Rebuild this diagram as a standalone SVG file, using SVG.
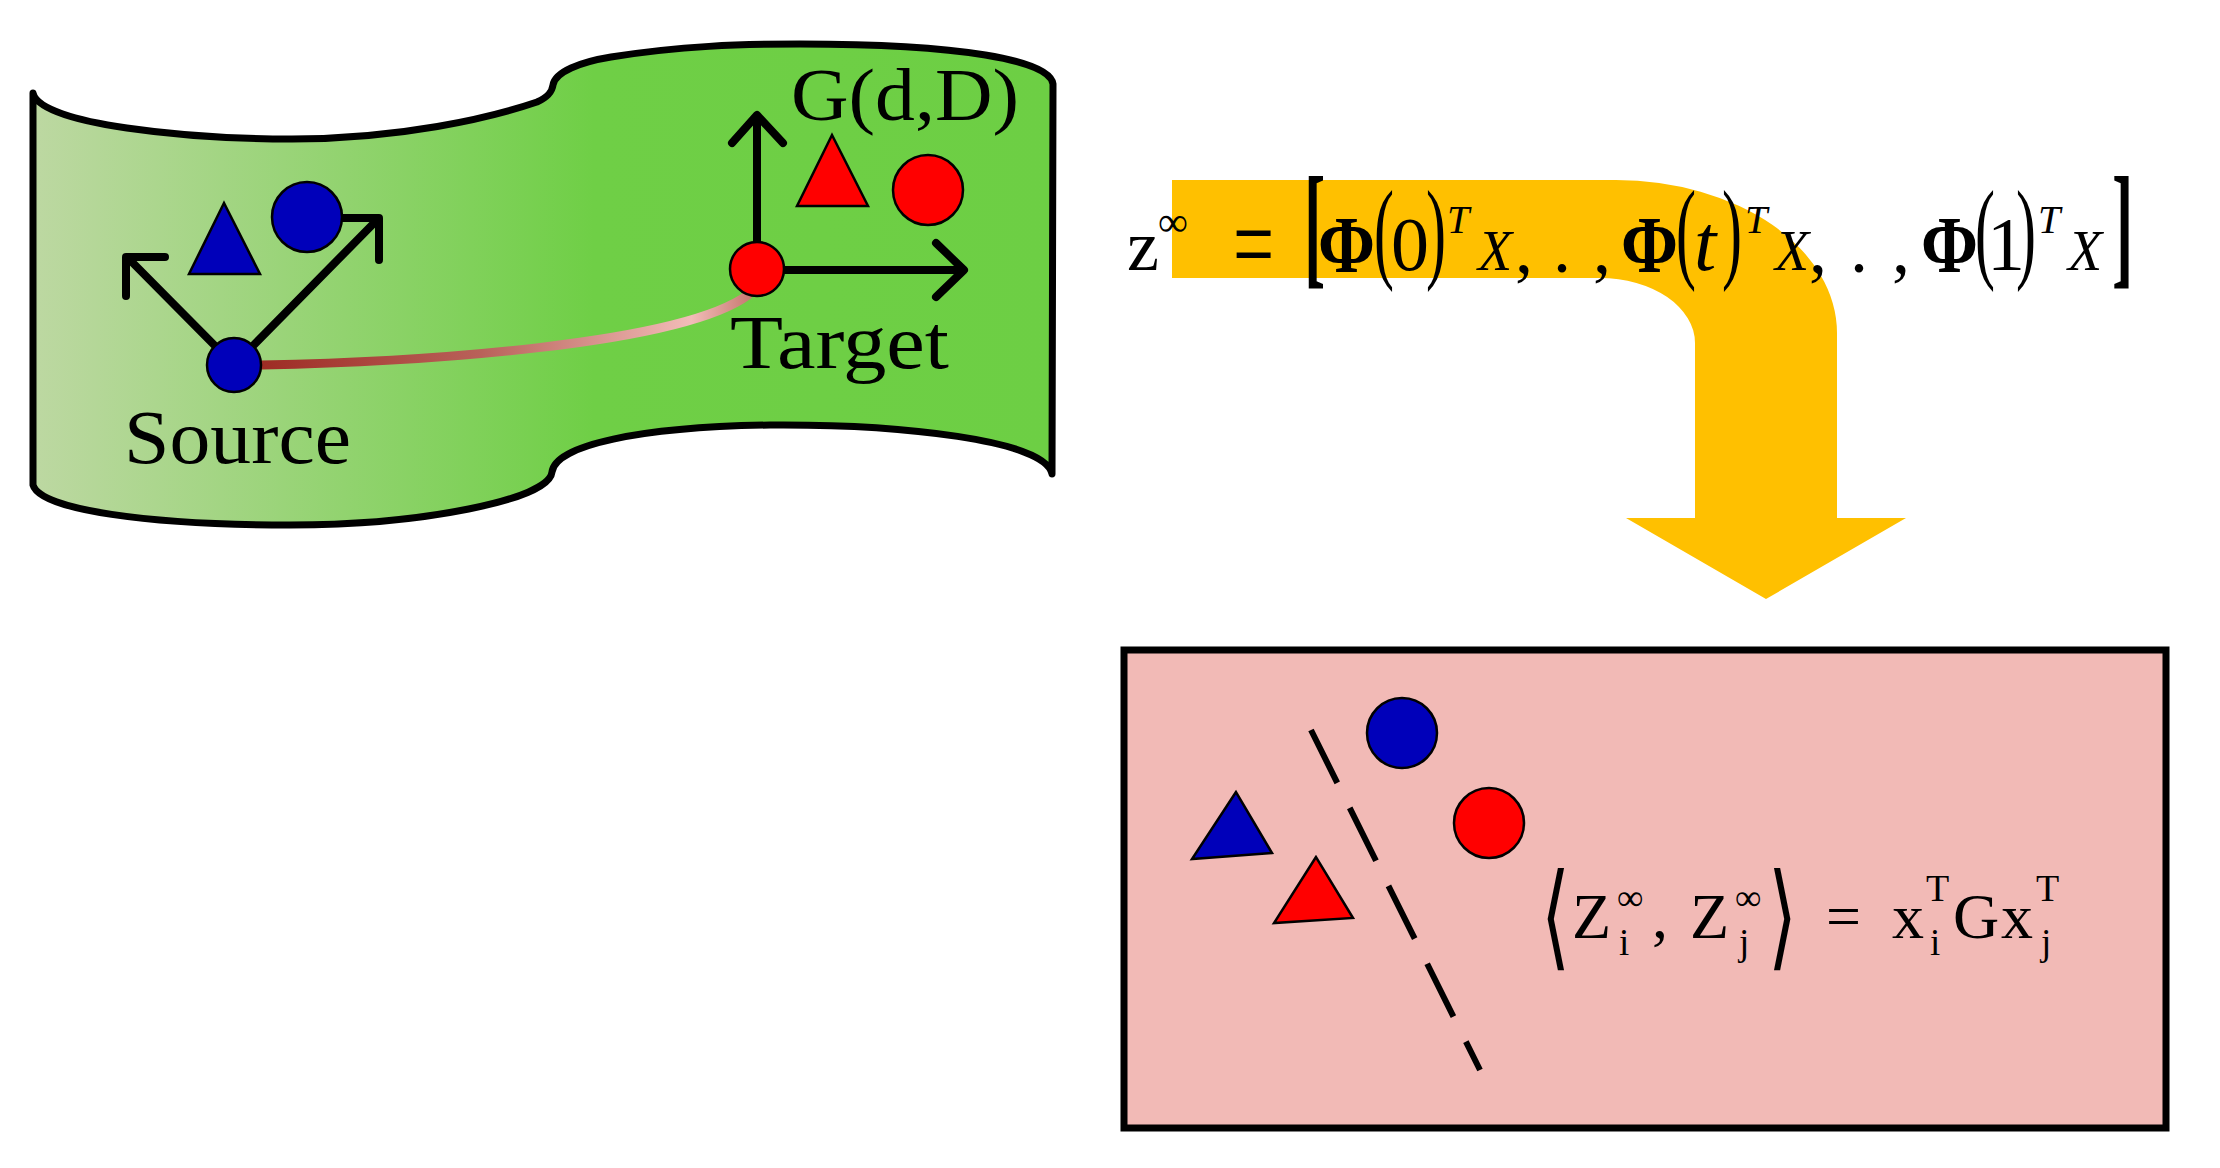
<svg xmlns="http://www.w3.org/2000/svg" width="2220" height="1168" viewBox="0 0 2220 1168">
<defs>
<linearGradient id="gGreen" x1="0" y1="0" x2="1" y2="0">
<stop offset="0" stop-color="#bdd8a2"/>
<stop offset="0.55" stop-color="#6fcf46"/>
<stop offset="1" stop-color="#6dcf44"/>
</linearGradient>
<linearGradient id="gPath" gradientUnits="userSpaceOnUse" x1="262" y1="0" x2="750" y2="0">
<stop offset="0" stop-color="#9e2c24"/>
<stop offset="0.45" stop-color="#b9625a"/>
<stop offset="0.88" stop-color="#f2bcb8"/>
<stop offset="1" stop-color="#c87a72"/>
</linearGradient>
</defs>
<style>
.outline{stroke:#000;stroke-width:7;stroke-linejoin:round;stroke-linecap:round}
.ax{fill:none;stroke:#000;stroke-width:8;stroke-linecap:round;stroke-linejoin:round}
.blue{fill:#0000ba;stroke:#000;stroke-width:2.5}
.red{fill:#ff0000;stroke:#000;stroke-width:2.5}
.lbl{font-family:"Liberation Serif",serif;font-size:76px;fill:#000}
.eq{font-family:"Liberation Serif",serif;fill:#000}
.it{font-style:italic}
.bd{font-weight:bold}
</style>
<rect width="2220" height="1168" fill="#fff"/>

<g id="manifold">
<path class="outline" fill="url(#gGreen)" d="M33,93 C40,125 190,139 292,139 C400,139 490,118 537,102 C548,97 552,92 553,85 C555,72 580,62 611,57 C680,46 740,44 800,44 C960,44 1050,60 1053,84 L1052,474 C1046,440 900,424 770,425 C640,427 555,445 552,472 C549,500 420,525 290,525 C150,525 40,510 33,485 Z"/>
</g>

<g id="connectors">
<path d="M262,365 C420,362 680,345 748,295" fill="none" stroke="url(#gPath)" stroke-width="9" stroke-linecap="round"/>
<path class="ax" d="M234,365 L128,258 M126,296 L126,257 L165,257"/>
<path class="ax" d="M234,365 L377,220 M341,218 L379,218 L379,260"/>
<path class="ax" d="M757,270 L757,116 M732,143 L757,115 L783,143"/>
<path class="ax" d="M757,270 L963,270 M936,243 L964,270 L936,297"/>
<path id="flow-arrow" fill="#ffc000" d="M1172,180 L1616,180 A221,153 0 0 1 1837,333 L1837,518 L1906,518 L1766,599 L1626,518 L1695,518 L1695,343 A95,65 0 0 0 1600,278 L1172,278 Z"/>
</g>

<g id="source-space">
<polygon class="blue" points="224,203 189,274 260,274"/>
<circle class="blue" cx="307" cy="217" r="35"/>
<circle id="source" class="blue" cx="234" cy="365" r="27"/>
<text class="lbl" x="124" y="463" textLength="227" lengthAdjust="spacingAndGlyphs">Source</text>
</g>

<g id="target-space">
<polygon class="red" points="832,135 797,206 868,206"/>
<circle class="red" cx="928" cy="190" r="35"/>
<circle id="target" class="red" cx="757" cy="269" r="27"/>
<text class="lbl" x="730" y="368" textLength="219" lengthAdjust="spacingAndGlyphs">Target</text>
<text class="lbl" x="791" y="120" textLength="228" lengthAdjust="spacingAndGlyphs" style="font-size:74px">G(d,D)</text>
</g>

<g id="formula-top" class="eq">
<text x="1127" y="270" font-size="72">z</text>
<text x="1158" y="236" font-size="42">∞</text>
<text transform="translate(1233,281) scale(1,1.5)" font-size="73">=</text>
<text transform="translate(1304,270) scale(0.8,1.7)" font-size="80" class="bd">[</text>
<text x="1318" y="272" font-size="80" class="bd" textLength="57" lengthAdjust="spacingAndGlyphs">Φ</text>
<text transform="translate(1374,268) scale(0.75,1.4)" font-size="80">(</text>
<text x="1391" y="270" font-size="76">0</text>
<text transform="translate(1426,268) scale(0.75,1.4)" font-size="80">)</text>
<text x="1447" y="233" font-size="40" class="it">T</text>
<text x="1478" y="270" font-size="56" class="it">X</text>
<text x="1515 1553 1593" y="272" font-size="72">,.,</text>
<text x="1621" y="272" font-size="80" class="bd" textLength="57" lengthAdjust="spacingAndGlyphs">Φ</text>
<text transform="translate(1676,268) scale(0.75,1.4)" font-size="80">(</text>
<text x="1694" y="270" font-size="80" class="it">t</text>
<text transform="translate(1722,268) scale(0.75,1.4)" font-size="80">)</text>
<text x="1745" y="233" font-size="40" class="it">T</text>
<text x="1775" y="270" font-size="56" class="it">X</text>
<text x="1809 1850 1892" y="272" font-size="72">,.,</text>
<text x="1921" y="272" font-size="80" class="bd" textLength="57" lengthAdjust="spacingAndGlyphs">Φ</text>
<text transform="translate(1975,268) scale(0.75,1.4)" font-size="80">(</text>
<text x="1987" y="270" font-size="76">1</text>
<text transform="translate(2016,268) scale(0.75,1.4)" font-size="80">)</text>
<text x="2038" y="233" font-size="40" class="it">T</text>
<text x="2068" y="270" font-size="56" class="it">X</text>
<text transform="translate(2112,270) scale(0.8,1.7)" font-size="80" class="bd">]</text>
</g>

<g id="kernel-space">
<rect x="1124" y="650" width="1042" height="478" fill="#f2bab6" stroke="#000" stroke-width="7"/>
<line x1="1311" y1="730" x2="1480" y2="1070" stroke="#000" stroke-width="6" stroke-dasharray="59 28"/>
<circle class="blue" cx="1402" cy="733" r="35"/>
<circle class="red" cx="1489" cy="823" r="35"/>
<polygon class="blue" points="1236,792 1192,859 1272,853"/>
<polygon class="red" points="1316,857 1274,923 1353,918"/>
</g>

<g id="formula-bottom" class="eq">
<text transform="translate(1541,955) scale(1.2,1.85)" font-size="62" font-family="'Liberation Serif','DejaVu Serif','DejaVu Sans',serif">⟨</text>
<text x="1572" y="938" font-size="64">Z</text>
<text x="1617" y="910" font-size="37">∞</text>
<text x="1619" y="955" font-size="37">i</text>
<text x="1652" y="938" font-size="64">,</text>
<text x="1690" y="938" font-size="64">Z</text>
<text x="1735" y="910" font-size="37">∞</text>
<text x="1739" y="955" font-size="37">j</text>
<text transform="translate(1768,955) scale(1.2,1.85)" font-size="62" font-family="'Liberation Serif','DejaVu Serif','DejaVu Sans',serif">⟩</text>
<text x="1826" y="937" font-size="62">=</text>
<text x="1892" y="938" font-size="64">x</text>
<text x="1926" y="901" font-size="38">T</text>
<text x="1930" y="955" font-size="37">i</text>
<text x="1953" y="938" font-size="64">G</text>
<text x="2001" y="938" font-size="64">x</text>
<text x="2036" y="901" font-size="38">T</text>
<text x="2041" y="955" font-size="37">j</text>
</g>
</svg>
